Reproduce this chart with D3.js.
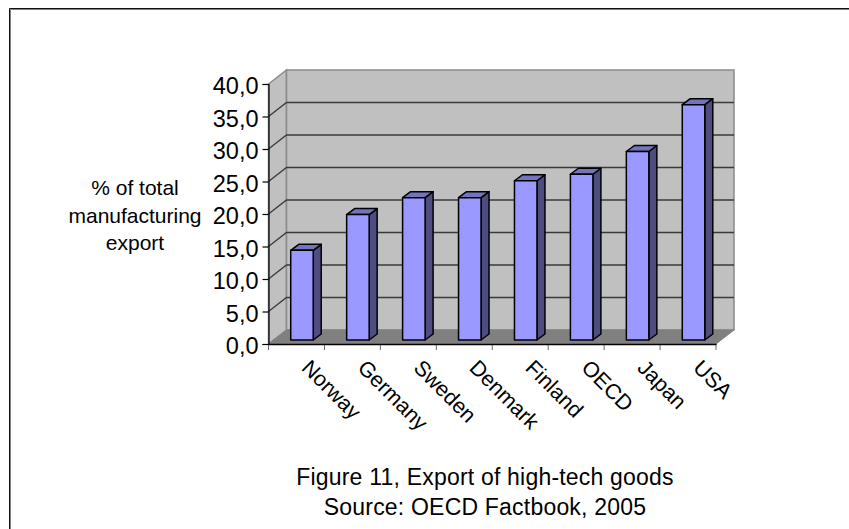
<!DOCTYPE html>
<html>
<head>
<meta charset="utf-8">
<style>
  html, body { margin: 0; padding: 0; background: #fff; }
  svg { display: block; }
  text { font-family: "Liberation Sans", Arial, sans-serif; fill: #000; }
</style>
<script src="https://cdn.jsdelivr.net/npm/d3@7"></script>
</head>
<body>
<svg id="chart" width="849" height="529"></svg>
<script>
// High-tech goods as a share of total manufacturing export
const categories = ["Norway", "Germany", "Sweden", "Denmark", "Finland", "OECD", "Japan", "USA"];
const shares = [13.8, 19.3, 21.9, 21.9, 24.5, 25.5, 29.0, 36.2];
const yTicks = [0, 5, 10, 15, 20, 25, 30, 35, 40];
const axisTitle = ["% of total", "manufacturing", "export"];
const caption = ["Figure 11, Export of high-tech goods", "Source: OECD Factbook, 2005"];

const svg = d3.select("#chart");

// Oblique projection of the chart box
const front = { left: 268.5, right: 716, top: 84, bottom: 344 };
const depth = { dx: 18, dy: -14 };
const barDepth = { dx: 8, dy: -6 };

const x = d3.scaleBand().domain(categories).range([front.left, front.right]);
const y = d3.scaleLinear().domain([0, 40]).range([front.bottom, front.top]);

const polygon = pts => pts.map(p => p.join(",")).join(" ");

// Frame: only the top and left edges are drawn, each with a grey inner edge
[["#808080", 10.5], ["#111", 9.5]].forEach(([colour, pos]) => {
  svg.append("line").attr("x1", pos).attr("x2", pos).attr("y1", pos - 1).attr("y2", 529).attr("stroke", colour);
  svg.append("line").attr("x1", pos).attr("x2", 849).attr("y1", pos - 1).attr("y2", pos - 1).attr("stroke", colour);
});

// Side wall
svg.append("polygon")
  .attr("points", polygon([
    [front.left, y(0)], [front.left, y(40)],
    [front.left + depth.dx, y(40) + depth.dy], [front.left + depth.dx, y(0) + depth.dy]
  ]))
  .attr("fill", "#c0c0c0").attr("stroke", "#8a8a8a").attr("stroke-width", 1.5);

// Back wall
svg.append("rect")
  .attr("x", front.left + depth.dx).attr("y", y(40) + depth.dy)
  .attr("width", front.right - front.left).attr("height", y(0) - y(40))
  .attr("fill", "#c0c0c0").attr("stroke", "#8a8a8a").attr("stroke-width", 1.5);

// Floor
svg.append("polygon")
  .attr("points", polygon([
    [front.left, y(0)], [front.right, y(0)],
    [front.right + depth.dx, y(0) + depth.dy], [front.left + depth.dx, y(0) + depth.dy]
  ]))
  .attr("fill", "#808080").attr("stroke", "#808080").attr("stroke-width", 1);

// Gridlines along the side and back walls
const inner = yTicks.filter(t => t > 0 && t < 40);
svg.append("g").selectAll("polyline").data(inner).join("polyline")
  .attr("points", t => polygon([
    [front.left, y(t)],
    [front.left + depth.dx, y(t) + depth.dy],
    [front.right + depth.dx, y(t) + depth.dy]
  ]))
  .attr("fill", "none").attr("stroke", "#3a3a3a").attr("stroke-width", 1.3);

// Y axis
const yAxis = d3.axisLeft(y).tickValues(yTicks).tickSize(6).tickPadding(4)
  .tickFormat(t => d3.format(".1f")(t).replace(".", ","));
const yG = svg.append("g").attr("transform", `translate(${front.left},0)`).call(yAxis);
yG.selectAll("path,line").attr("stroke", "#000").attr("stroke-width", 1.2);
yG.selectAll("text").attr("font-size", 23.5).attr("dy", "0.42em").attr("font-family", '"Liberation Sans", Arial, sans-serif');

// X axis
const xAxis = d3.axisBottom(x).tickSizeOuter(0).tickSize(0).tickFormat("");
const xG = svg.append("g").attr("transform", `translate(0,${front.bottom})`).call(xAxis);
xG.select("path").attr("stroke", "#000").attr("stroke-width", 1.5);
const boundaries = [...categories.map(c => x(c)), front.right];
xG.selectAll("line.sep").data(boundaries).join("line").attr("class", "sep")
  .attr("x1", d => d).attr("x2", d => d).attr("y1", 0).attr("y2", 6)
  .attr("stroke", "#000").attr("stroke-opacity", 0.6);

// Bars drawn as three visible faces
const bw = 22.5;
const barLeft = c => x(c) + (x.bandwidth() - bw) / 2 + 5.5;
const barBase = y(0) - 4;
const valTop = v => y(v) - 4;

const bars = svg.append("g").selectAll("g").data(categories.map((c, i) => ({ c, v: shares[i] }))).join("g")
  .attr("stroke", "#000").attr("stroke-width", 1.5).attr("stroke-linejoin", "round");

bars.append("polygon").attr("fill", "#4d4d80")
  .attr("points", d => polygon([
    [barLeft(d.c) + bw, barBase], [barLeft(d.c) + bw, valTop(d.v)],
    [barLeft(d.c) + bw + barDepth.dx, valTop(d.v) + barDepth.dy],
    [barLeft(d.c) + bw + barDepth.dx, barBase + barDepth.dy]
  ]));
bars.append("polygon").attr("fill", "#7373bf")
  .attr("points", d => polygon([
    [barLeft(d.c), valTop(d.v)], [barLeft(d.c) + bw, valTop(d.v)],
    [barLeft(d.c) + bw + barDepth.dx, valTop(d.v) + barDepth.dy],
    [barLeft(d.c) + barDepth.dx, valTop(d.v) + barDepth.dy]
  ]));
bars.append("rect").attr("fill", "#9999ff")
  .attr("x", d => barLeft(d.c)).attr("y", d => valTop(d.v))
  .attr("width", bw).attr("height", d => barBase - valTop(d.v));

// Rotated category labels
svg.append("g").selectAll("text").data(categories).join("text")
  .attr("font-size", 21.5)
  .attr("transform", c => `translate(${x(c) + 32},369) rotate(45)`)
  .text(c => c);

// Value axis title
svg.append("g").selectAll("text").data(axisTitle).join("text")
  .attr("text-anchor", "middle").attr("font-size", 21)
  .attr("x", 135).attr("y", (d, i) => 195 + i * 27.5)
  .text(d => d);

// Caption
svg.append("g").selectAll("text").data(caption).join("text")
  .attr("text-anchor", "middle").attr("font-size", 23).attr("letter-spacing", 0.2)
  .attr("x", 485).attr("y", (d, i) => 485 + i * 30)
  .text(d => d);
</script>
</body>
</html>
